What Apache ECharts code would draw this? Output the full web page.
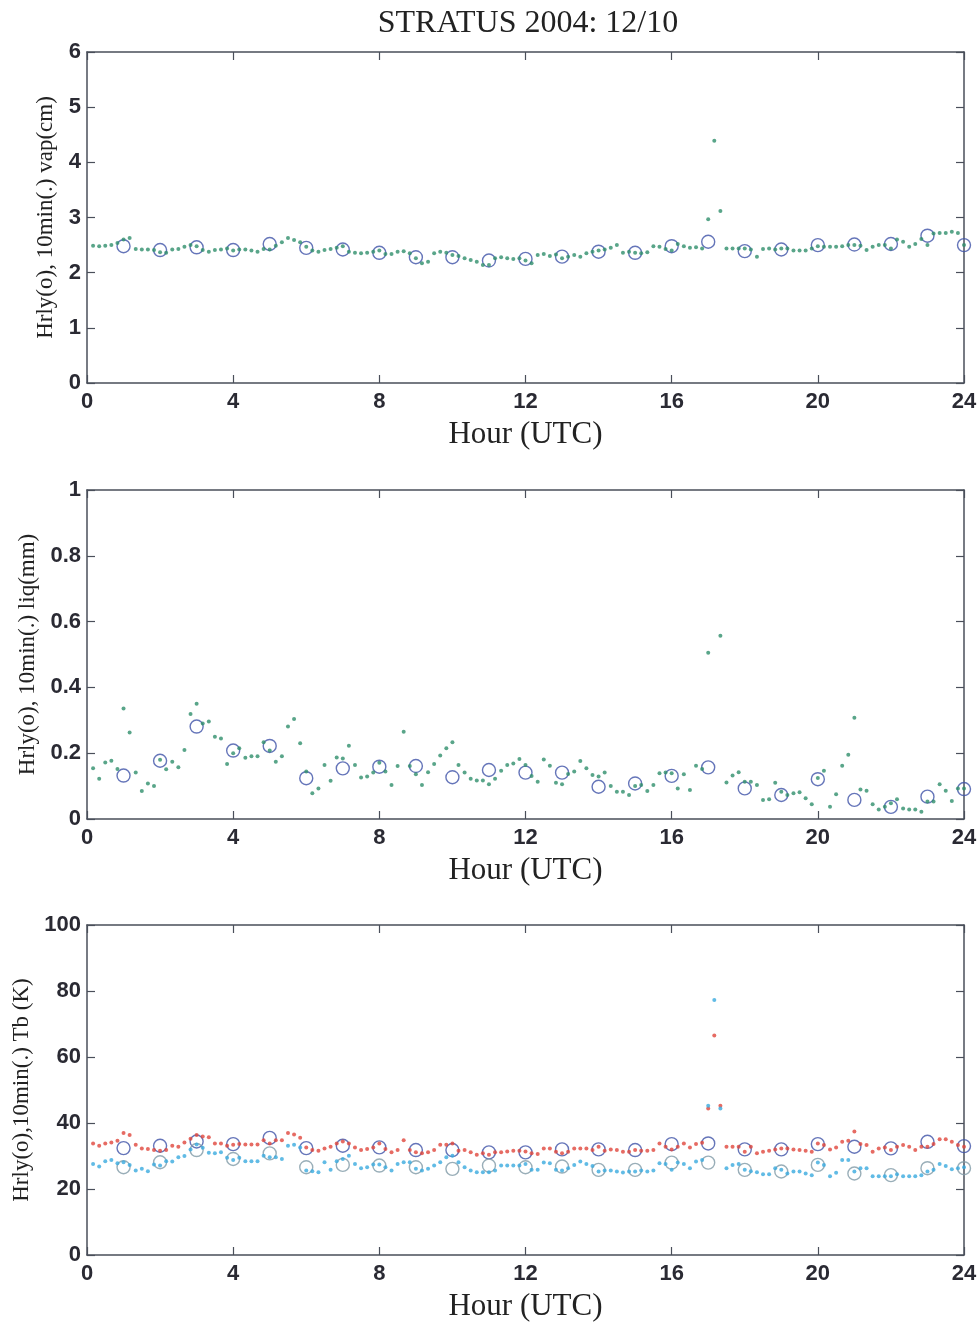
<!DOCTYPE html>
<html>
<head>
<meta charset="utf-8">
<script src="https://cdn.jsdelivr.net/npm/echarts@6/dist/echarts.min.js"></script>
<style>
html,body{margin:0;padding:0;background:#fff;}
#chart{width:980px;height:1323px;}
</style>
</head>
<body>
<div id="chart"></div>
<script>
// ---------------- DATA ----------------
const titleText = "STRATUS 2004: 12/10";
const xTicks = [0, 4, 8, 12, 16, 20, 24];
// hourly observation times (hours 1..24)
const hourlyTimes = [1,2,3,4,5,6,7,8,9,10,11,12,13,14,15,16,17,18,19,20,21,22,23,24];
// 10-minute sample index (k -> k/6 hours), k = 1..144
const tenMinIndex = Array.from({length:144}, (_, i) => i + 1);

// Panel 1: water vapour (cm)
const vapHourly = [2.48,2.41,2.46,2.41,2.52,2.45,2.42,2.36,2.28,2.28,2.22,2.25,2.29,2.38,2.36,2.48,2.56,2.39,2.42,2.50,2.51,2.52,2.67,2.50];
const vap10min = [
 2.49,2.48,2.49,2.50,2.54,2.60,
 2.63,2.43,2.42,2.42,2.41,2.37,
 2.36,2.42,2.43,2.47,2.50,2.48,
 2.41,2.38,2.41,2.42,2.44,2.40,
 2.42,2.42,2.40,2.38,2.43,2.42,
 2.49,2.55,2.63,2.59,2.55,2.47,
 2.40,2.38,2.41,2.43,2.45,2.48,
 2.38,2.36,2.35,2.36,2.38,2.40,
 2.34,2.34,2.38,2.39,2.35,2.26,
 2.17,2.20,2.35,2.38,2.36,2.32,
 2.30,2.26,2.23,2.20,2.14,2.14,
 2.26,2.28,2.26,2.25,2.26,2.22,
 2.17,2.32,2.34,2.30,2.33,2.26,
 2.29,2.32,2.29,2.35,2.38,2.40,
 2.42,2.45,2.50,2.36,2.38,2.36,
 2.35,2.37,2.48,2.47,2.43,2.40,
 2.52,2.48,2.45,2.46,2.44,2.97,
 4.39,3.12,2.44,2.44,2.44,2.44,
 2.42,2.29,2.43,2.44,2.42,2.44,
 2.44,2.40,2.40,2.40,2.44,2.48,
 2.47,2.47,2.47,2.48,2.50,2.50,
 2.49,2.41,2.47,2.50,2.50,2.44,
 2.60,2.56,2.47,2.52,2.61,2.50,
 2.71,2.72,2.72,2.74,2.72,2.50
];

// Panel 2: liquid water (mm)
const liqHourly = [0.132,0.177,0.281,0.208,0.222,0.124,0.154,0.159,0.161,0.127,0.149,0.141,0.141,0.098,0.108,0.131,0.157,0.093,0.073,0.121,0.058,0.037,0.068,0.091];
const liq10min = [
 0.154,0.122,0.172,0.177,0.152,0.336,
 0.263,0.141,0.085,0.108,0.100,0.180,
 0.151,0.174,0.157,0.210,0.319,0.350,
 0.290,0.296,0.250,0.245,0.167,0.200,
 0.215,0.186,0.191,0.191,0.233,0.208,
 0.174,0.191,0.281,0.304,0.230,0.144,
 0.078,0.093,0.164,0.116,0.187,0.184,
 0.223,0.164,0.126,0.129,0.141,0.171,
 0.144,0.103,0.161,0.265,0.161,0.136,
 0.103,0.142,0.167,0.193,0.215,0.233,
 0.164,0.141,0.122,0.117,0.117,0.106,
 0.122,0.147,0.164,0.169,0.182,0.164,
 0.131,0.113,0.181,0.162,0.110,0.106,
 0.137,0.144,0.176,0.154,0.134,0.129,
 0.141,0.100,0.083,0.083,0.073,0.100,
 0.103,0.085,0.103,0.139,0.141,0.139,
 0.093,0.136,0.088,0.162,0.152,0.505,
 null,0.557,0.111,0.132,0.142,0.113,
 0.113,0.103,0.058,0.060,0.110,0.083,
 0.073,0.078,0.081,0.063,0.045,0.125,
 0.147,0.037,0.075,0.162,0.195,0.308,
 0.090,0.086,0.045,0.029,0.037,0.048,
 0.060,0.032,0.029,0.029,0.022,0.053,
 0.053,0.106,0.086,0.055,0.093,0.093
];

// Panel 3: brightness temperatures (K), two channels
const tbAHourly = [32.4,33.1,34.4,33.6,35.5,32.4,33.1,32.6,31.8,31.8,31.1,31.1,32.0,32.0,31.8,33.6,33.8,32.0,32.0,33.6,32.8,32.3,34.3,33.0];
const tbA10min = [
 33.8,33.1,33.8,34.1,34.6,37.0,
 36.4,33.4,32.3,32.1,31.8,31.6,
 31.8,33.1,32.8,34.1,35.2,36.4,
 35.9,35.7,33.8,33.8,33.1,33.4,
 33.6,33.5,33.5,33.5,34.8,33.8,
 34.8,34.8,37.0,36.5,35.5,32.6,
 31.8,31.6,32.3,32.8,33.8,34.4,
 33.8,32.6,31.8,32.1,32.6,33.8,
 32.1,31.1,31.8,34.8,31.8,31.1,
 30.8,31.1,31.8,33.4,33.4,33.8,
 31.6,31.8,31.1,30.4,30.8,30.4,
 31.1,31.1,31.4,31.6,31.6,31.4,
 30.8,30.6,32.3,32.3,31.3,30.8,
 31.3,32.3,32.3,32.3,31.8,32.8,
 31.6,32.0,31.8,31.3,31.3,31.8,
 31.6,31.6,31.8,33.8,32.8,32.0,
 32.8,33.8,32.6,33.6,34.0,44.4,
 66.5,45.2,32.8,32.8,32.8,31.3,
 32.8,30.8,31.3,31.6,32.0,32.3,
 32.3,32.0,31.8,31.6,31.3,33.8,
 33.3,32.0,32.6,34.3,34.6,37.4,
 33.6,33.3,31.3,32.3,32.6,31.8,
 32.8,33.3,32.8,31.8,32.8,32.8,
 33.6,35.1,35.1,34.3,33.3,32.8
];
const tbBHourly = [26.6,28.1,31.8,29.1,30.8,26.6,27.3,27.1,26.6,26.1,27.1,26.6,26.8,25.8,25.8,28.0,28.0,25.8,25.3,27.3,24.7,24.2,26.3,26.3];
const tbB10min = [
 27.6,26.8,28.4,28.8,27.8,28.1,
 27.3,25.6,26.1,25.4,27.4,27.1,
 28.4,28.3,29.6,30.0,32.0,33.5,
 32.5,31.0,30.8,31.1,29.5,28.8,
 29.5,28.4,28.4,28.4,30.1,29.6,
 29.6,29.1,33.1,33.4,32.6,25.6,
 25.4,25.1,28.1,25.8,28.4,29.1,
 30.1,27.6,26.3,26.6,27.4,27.4,
 26.6,25.6,27.6,28.1,28.1,26.1,
 25.6,26.1,27.1,28.1,29.6,30.1,
 28.1,26.6,25.6,25.1,25.1,25.1,
 25.6,27.1,27.1,27.1,27.1,27.6,
 25.8,25.8,28.0,27.8,25.8,25.6,
 26.3,27.3,28.3,27.6,27.0,25.3,
 25.6,25.6,25.3,25.0,25.3,25.3,
 25.6,25.3,25.6,27.8,27.6,25.8,
 28.0,27.6,26.3,28.3,28.8,45.2,
 77.3,44.4,26.3,27.3,27.6,25.8,
 25.4,25.1,24.5,24.5,26.3,25.8,
 24.7,25.3,25.3,24.7,24.2,28.0,
 27.3,23.9,24.9,28.8,28.8,25.3,
 26.3,26.3,23.9,23.9,23.9,23.9,
 24.5,23.9,23.9,23.9,24.2,25.3,
 25.8,27.6,27.0,26.0,26.3,26.6
];

const yLabels = ["Hrly(o), 10min(.) vap(cm)", "Hrly(o), 10min(.) liq(mm)", "Hrly(o),10min(.) Tb (K)"];
const xLabel = "Hour (UTC)";

// ---------------- CHART ----------------
const pair = (xs, ys) => xs.map((x, i) => [x, ys[i]]);
const tenMinTimes = tenMinIndex.map(k => k / 6);

const C_DOT = '#2f8f6c', C_CIRC = '#3f53a8', C_RED = '#e0463c', C_CYAN = '#3aaade', C_GREY = '#7f9aa6';
const AX = '#4a4f5a';
const serif = '"Liberation Serif","DejaVu Serif",serif';
const sans = '"Liberation Sans",Arial,sans-serif';

const panels = [
  {top: 52, height: 331, min: 0, max: 6, interval: 1, gap: 28, fmt: v => String(v)},
  {top: 490, height: 329, min: 0, max: 1, interval: 0.2, gap: 48, fmt: v => String(+v.toFixed(1))},
  {top: 925, height: 330, min: 0, max: 100, interval: 20, gap: 54, fmt: v => String(v)}
];

const grid = [], xAxis = [], yAxis = [], series = [];
panels.forEach((p, i) => {
  grid.push({left: 87, top: p.top, width: 877, height: p.height, show: false});
  const tick = {show: true, inside: true, length: 8, lineStyle: {color: AX, width: 1.2}};
  const line = {show: true, onZero: false, lineStyle: {color: AX, width: 1.5}};
  const lab = {fontFamily: sans, fontSize: 22, fontWeight: 'bold', color: '#2a2a33', margin: 7};
  xAxis.push({
    type: 'value', gridIndex: i, min: 0, max: 24, interval: 4, position: 'bottom',
    axisLine: line, axisTick: tick, splitLine: {show: false},
    axisLabel: Object.assign({}, lab, {margin: 8}),
    name: xLabel, nameLocation: 'middle', nameGap: 36,
    nameTextStyle: {fontFamily: serif, fontSize: 31, color: '#222'}
  });
  xAxis.push({
    type: 'value', gridIndex: i, min: 0, max: 24, interval: 4, position: 'top',
    axisLine: line, axisTick: tick, axisLabel: {show: false}, splitLine: {show: false}
  });
  yAxis.push({
    type: 'value', gridIndex: i, min: p.min, max: p.max, interval: p.interval, position: 'left',
    axisLine: line, axisTick: tick, splitLine: {show: false},
    axisLabel: Object.assign({}, lab, {formatter: p.fmt, margin: 6}),
    name: yLabels[i], nameLocation: 'middle', nameGap: p.gap, nameRotate: 90,
    nameTextStyle: {fontFamily: serif, fontSize: 23, color: '#222'}
  });
  yAxis.push({
    type: 'value', gridIndex: i, min: p.min, max: p.max, interval: p.interval, position: 'right',
    axisLine: line, axisTick: tick, axisLabel: {show: false}, splitLine: {show: false}
  });
});

function circles(gi, data, color) {
  return {type: 'scatter', xAxisIndex: gi*2, yAxisIndex: gi*2, data, symbol: 'circle', symbolSize: 13,
    itemStyle: {color: 'rgba(0,0,0,0)', borderColor: color, borderWidth: 1.4}, silent: true, z: 2};
}
function dots(gi, data, color) {
  return {type: 'scatter', xAxisIndex: gi*2, yAxisIndex: gi*2, data, symbol: 'circle', symbolSize: 4,
    itemStyle: {color}, silent: true, z: 3};
}

series.push(circles(0, pair(hourlyTimes, vapHourly), C_CIRC));
series.push(dots(0, pair(tenMinTimes, vap10min), C_DOT));
series.push(circles(1, pair(hourlyTimes, liqHourly), C_CIRC));
series.push(dots(1, pair(tenMinTimes, liq10min), C_DOT));
series.push(circles(2, pair(hourlyTimes, tbAHourly), C_CIRC));
series.push(circles(2, pair(hourlyTimes, tbBHourly), C_GREY));
series.push(dots(2, pair(tenMinTimes, tbA10min), C_RED));
series.push(dots(2, pair(tenMinTimes, tbB10min), C_CYAN));

const chart = echarts.init(document.getElementById('chart'), null, {renderer: 'canvas'});
chart.setOption({
  backgroundColor: '#fff',
  animation: false,
  title: {text: titleText, left: 523, top: 3, textAlign: 'center',
    textStyle: {fontFamily: serif, fontSize: 32, fontWeight: 'normal', color: '#222'}},
  grid, xAxis, yAxis, series
});
</script>
</body>
</html>
